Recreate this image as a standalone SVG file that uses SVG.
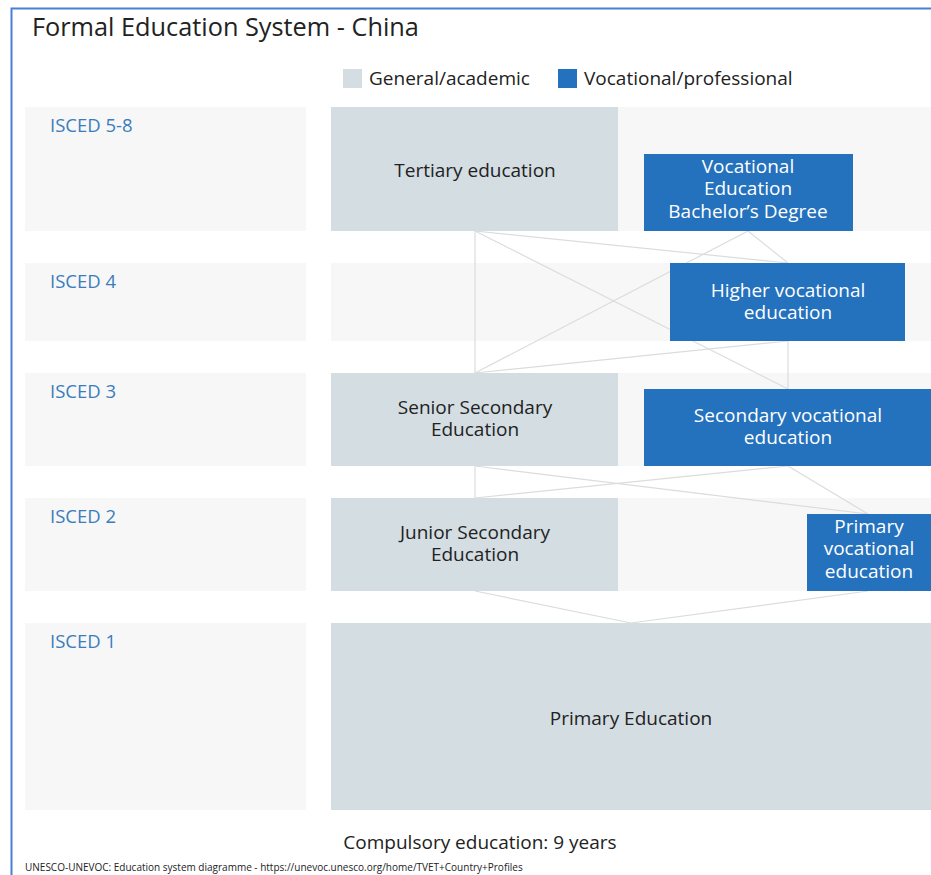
<svg xmlns="http://www.w3.org/2000/svg" width="931" height="875" viewBox="0 0 931 875">
<style>
text{font-family:"Open Sans","Noto Sans","Liberation Sans",sans-serif}
.panel{fill:#f7f7f7}
.gen{fill:#d3dde2}
.voc{fill:#2471bd}
.lvl{fill:#3b7dbc;font-size:18.5px}
.gt{fill:#222;font-size:19px;text-anchor:middle}
.vt{fill:#fff;font-size:19px;text-anchor:middle}
.conn line{stroke:#dcdcdc;stroke-width:1.2;fill:none}
</style>
<rect x="0" y="0" width="931" height="875" fill="#fff"/>
<path d="M11.5 875 V8.5 H931" fill="none" stroke="#4a7fd6" stroke-width="2"/>
<text x="32" y="36" font-size="25.3" fill="#222">Formal Education System - China</text>
<g id="legend">
<rect x="343" y="69" width="19" height="19" class="gen"/>
<text x="369" y="85" font-size="19" fill="#222">General/academic</text>
<rect x="558" y="69" width="19" height="19" class="voc"/>
<text x="584" y="85" font-size="19" fill="#222">Vocational/professional</text>
</g>
<g id="levels">
<rect x="25" y="107" width="281" height="124" class="panel"/>
<rect x="331" y="107" width="600" height="124" class="panel"/>
<text x="50" y="132" class="lvl">ISCED 5-8</text>
<rect x="25" y="263" width="281" height="78" class="panel"/>
<rect x="331" y="263" width="600" height="78" class="panel"/>
<text x="50" y="288" class="lvl">ISCED 4</text>
<rect x="25" y="373" width="281" height="93" class="panel"/>
<rect x="331" y="373" width="600" height="93" class="panel"/>
<text x="50" y="398" class="lvl">ISCED 3</text>
<rect x="25" y="498" width="281" height="93" class="panel"/>
<rect x="331" y="498" width="600" height="93" class="panel"/>
<text x="50" y="523" class="lvl">ISCED 2</text>
<rect x="25" y="623" width="281" height="187" class="panel"/>
<rect x="331" y="623" width="600" height="187" class="panel"/>
<text x="50" y="648" class="lvl">ISCED 1</text>
</g>
<g class="conn" id="connectors">
<line x1="475" y1="231" x2="475" y2="373"/>
<line x1="475" y1="231" x2="788" y2="263"/>
<line x1="475" y1="231" x2="788" y2="389"/>
<line x1="748" y1="231" x2="475" y2="373"/>
<line x1="748" y1="231" x2="788" y2="263"/>
<line x1="788" y1="341" x2="475" y2="373"/>
<line x1="788" y1="341" x2="788" y2="389"/>
<line x1="475" y1="466" x2="475" y2="498"/>
<line x1="475" y1="466" x2="868" y2="514"/>
<line x1="788" y1="466" x2="475" y2="498"/>
<line x1="788" y1="466" x2="868" y2="514"/>
<line x1="475" y1="591" x2="631" y2="623"/>
<line x1="868" y1="591" x2="631" y2="623"/>
</g>
<g id="tertiary">
<rect x="331" y="107" width="287" height="124" class="gen"/>
<text x="475" y="177" class="gt">Tertiary education</text>
</g>
<g id="voc-bachelor">
<rect x="644" y="154" width="209" height="77" class="voc"/>
<text x="748" y="173" class="vt">Vocational</text>
<text x="748" y="195" class="vt">Education</text>
<text x="748" y="218" class="vt">Bachelor’s Degree</text>
</g>
<g id="higher-voc">
<rect x="670" y="263" width="235" height="78" class="voc"/>
<text x="788" y="297" class="vt">Higher vocational</text>
<text x="788" y="319" class="vt">education</text>
</g>
<g id="senior-sec">
<rect x="331" y="373" width="287" height="93" class="gen"/>
<text x="475" y="414" class="gt">Senior Secondary</text>
<text x="475" y="436" class="gt">Education</text>
</g>
<g id="sec-voc">
<rect x="644" y="389" width="287" height="77" class="voc"/>
<text x="788" y="422" class="vt">Secondary vocational</text>
<text x="788" y="444" class="vt">education</text>
</g>
<g id="junior-sec">
<rect x="331" y="498" width="287" height="93" class="gen"/>
<text x="475" y="539" class="gt">Junior Secondary</text>
<text x="475" y="561" class="gt">Education</text>
</g>
<g id="primary-voc">
<rect x="807" y="514" width="124" height="77" class="voc"/>
<text x="869" y="533" class="vt">Primary</text>
<text x="869" y="555" class="vt">vocational</text>
<text x="869" y="578" class="vt">education</text>
</g>
<g id="primary">
<rect x="331" y="623" width="600" height="187" class="gen"/>
<text x="631" y="725" class="gt">Primary Education</text>
</g>
<text x="480" y="849" font-size="19" fill="#222" text-anchor="middle">Compulsory education: 9 years</text>
<text x="25" y="871" font-size="10" fill="#222">UNESCO-UNEVOC: Education system diagramme - https://unevoc.unesco.org/home/TVET+Country+Profiles</text>
</svg>
